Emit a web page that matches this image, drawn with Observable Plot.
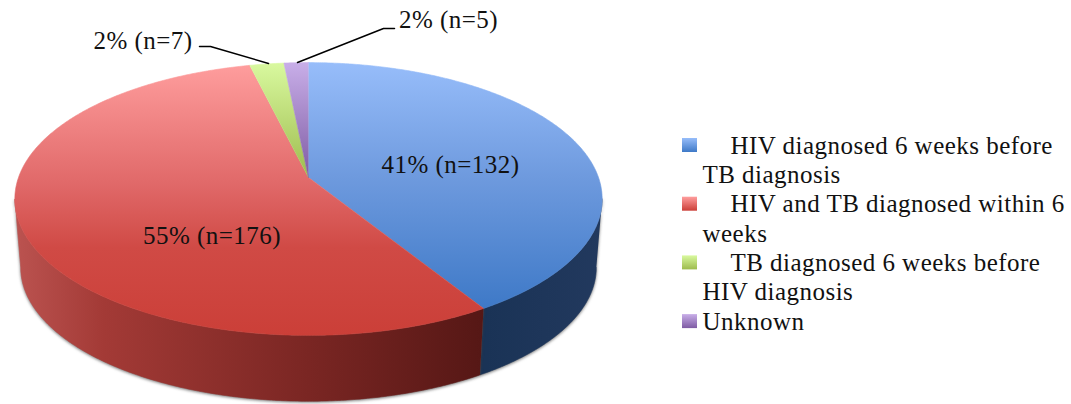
<!DOCTYPE html>
<html><head><meta charset="utf-8">
<script src="https://cdn.jsdelivr.net/npm/d3@7"></script>
<script src="https://cdn.jsdelivr.net/npm/@observablehq/plot@0.6"></script>
<style>html,body{margin:0;padding:0;background:#fff}svg{display:block}</style>
</head><body><div id="chart"></div>
<script>
const categories = ["HIV diagnosed 6 weeks before TB diagnosis","HIV and TB diagnosed within 6 weeks","TB diagnosed 6 weeks before HIV diagnosis","Unknown"];
const counts = [132, 176, 7, 5];
const percents = [41, 55, 2, 2];
const legendLines = [["HIV diagnosed 6 weeks before","TB diagnosis"],["HIV and TB diagnosed within 6","weeks"],["TB diagnosed 6 weeks before","HIV diagnosis"],["Unknown"]];
const gradIds = ["blue","red","green","purple"];

const FONT = "'Liberation Serif', serif", FS = 25;
const total = d3.sum(counts);
let run = 0;
const slices = counts.map((n,i)=>{const a=run/total*360; run+=n; return {i,n,a,b:run/total*360};});

// perspective disc: theta clockwise from the back of the pie
const k = 0.1575;
function rim(deg, level){
  const t = deg*Math.PI/180, u = Math.sin(t), v = Math.cos(t), d = 1 + k*v;
  const s = level ? 0.98 : 1, y0 = level ? 246 : 177;
  return {x: 308 + s*290*u/d, y: y0 - s*133*v/d};
}
const arc = (a,b,level)=>{const n=Math.max(2,Math.ceil(Math.abs(b-a))*2);return d3.range(n+1).map(j=>rim(a+(b-a)*j/n,level));};
const topFace = s => [{x:308,y:177},...arc(s.a,s.b,0)];
const sideFace = (a,b) => [...arc(a,b,0),...arc(b,a,1)];
// theta of the disc's widest points, where the side wall's silhouette is tangent
const widest = Math.acos(-k)*180/Math.PI;

function defs(){
  const g=document.createElementNS("http://www.w3.org/2000/svg","defs");
  const lin=(id,stops,attrs)=>`<linearGradient id="${id}" ${attrs}>${stops.map(([o,c])=>`<stop offset="${o}" stop-color="${c}"/>`).join("")}</linearGradient>`;
  const v='gradientUnits="userSpaceOnUse" x1="0" x2="0" y1="62" y2="335"';
  const h='gradientUnits="userSpaceOnUse" x1="15" x2="603" y1="0" y2="0"';
  const sv='gradientUnits="userSpaceOnUse" x1="0" x2="0" y1="62" y2="178"';
  const box='x1="0" x2="0" y1="0" y2="1"';
  g.innerHTML=
   lin("blue",[[0,"#97bdfa"],[.42,"#6e9ade"],[.90,"#3e79c7"],[1,"#3e79c7"]],v)+
   lin("red",[[0,"#ff9e9e"],[.45,"#e06868"],[.68,"#d04a45"],[1,"#cb3f38"]],v)+
   lin("green",[[0,"#d9f99f"],[1,"#9dbb4d"]],sv)+
   lin("purple",[[0,"#c8aee8"],[1,"#7e5ba3"]],sv)+
   lin("redSide",[[0,"#bb5350"],[.15,"#a33a36"],[.5,"#7a2623"],[.8,"#551715"],[1,"#551715"]],h)+
   lin("blueSide",[[0,"#1a3356"],[.8,"#1a3356"],[1,"#22395e"]],h)+
   lin("lgblue",[[0,"#97bdfa"],[1,"#3e79c7"]],box)+
   lin("lgred",[[0,"#ff9e9e"],[1,"#cb3f38"]],box)+
   lin("lggreen",[[0,"#d9f99f"],[1,"#9dbb4d"]],box)+
   lin("lgpurple",[[0,"#c8aee8"],[1,"#7e5ba3"]],box);
  return g;
}

const label = i => `${percents[i]}% (n=${counts[i]})`;
const labelData = [
  {t:label(0),x:450,y:172},
  {t:label(1),x:211.5,y:243},
  {t:label(2),x:142.5,y:48},
  {t:label(3),x:448,y:27}
].map(d=>({...d,y:d.y-0.32*FS}));

const legendRows = [];
const swatches = [];
let base = 153;
legendLines.forEach((lines,i)=>{
  swatches.push({i,y1:base-15,y2:base-1});
  lines.forEach((t,j)=>{
    const indented = j===0 && lines.length>1;
    legendRows.push({t,x:indented?730:702,y:base-0.32*FS});
    base+=29.35;
  });
});

const leaderA = [{x:199,y:46},{x:210,y:46},{x:268,y:63}];
const leaderB = [{x:297,y:62},{x:383,y:28},{x:394,y:28}];
const shadow = "drop-shadow(0px 1px 1.5px rgba(60,60,60,.7))";
const poly = (data,fill,extra={}) => Plot.line(data,{x:"x",y:"y",fill,stroke:fill,strokeWidth:.6,curve:"linear",...extra});

const plot = Plot.plot({
  width:1071,height:404,margin:0,
  x:{domain:[0,1071],range:[0,1071],axis:null},
  y:{domain:[0,404],range:[0,404],axis:null},
  style:{fontFamily:FONT,background:"#fff",letterSpacing:"0.47px"},
  marks:[
    defs,
    poly(sideFace(widest,slices[0].b),"url(#blueSide)",{imageFilter:shadow}),
    poly(sideFace(slices[1].a,360-widest),"url(#redSide)",{imageFilter:shadow}),
    ...slices.map(s=>poly(topFace(s),`url(#${gradIds[s.i]})`)),
    Plot.line(leaderA,{x:"x",y:"y",stroke:"#000",strokeWidth:1.5,curve:"linear"}),
    Plot.line(leaderB,{x:"x",y:"y",stroke:"#000",strokeWidth:1.5,curve:"linear"}),
    Plot.text(labelData,{x:"x",y:"y",text:"t",fontSize:FS,fill:"#111",textAnchor:"middle",lineAnchor:"middle"}),
    Plot.rect(swatches,{x1:()=>682,x2:()=>697,y1:"y1",y2:"y2",fill:d=>`url(#lg${gradIds[d.i]})`}),
    Plot.text(legendRows,{x:"x",y:"y",text:"t",fontSize:FS,fill:"#111",textAnchor:"start",lineAnchor:"middle"})
  ]
});
document.getElementById("chart").append(plot);
</script></body></html>
